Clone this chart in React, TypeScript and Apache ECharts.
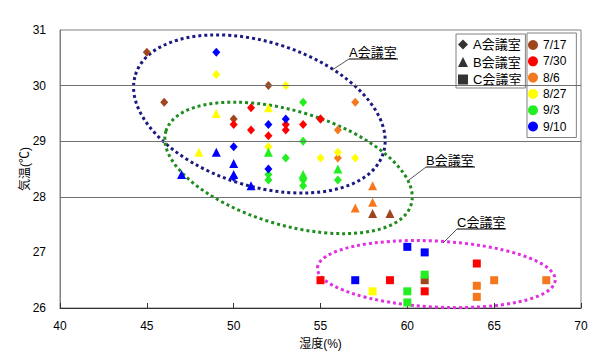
import React, { useEffect, useRef } from 'react';
import * as echarts from 'echarts';

const dates = ['7/17', '7/30', '8/6', '8/27', '9/3', '9/10'];
const rooms = ['A会議室', 'B会議室', 'C会議室'];
const gridLineValues = [28, 29, 30];

// Room A (diamonds), one list per date
const roomA: number[][][] = [
  [[45, 30.6], [46, 29.7], [52, 30.0], [50, 29.4], [55, 29.4]],
  [[51, 29.6], [50, 29.3], [51, 29.2], [52, 29.1], [53, 29.3], [53, 29.2], [54, 29.3], [55, 29.4]],
  [[57, 29.7], [56, 29.2], [56, 28.7]],
  [[49, 30.2], [53, 30.0], [52, 28.9], [55, 28.7], [56, 28.8], [57, 28.7]],
  [[54, 29.7], [54, 29.0], [53, 28.7], [52, 28.4], [52, 28.3], [54, 28.3], [54, 28.2], [56, 28.3]],
  [[49, 30.6], [52, 29.3], [53, 29.4], [50, 28.9], [52, 28.5], [50, 28.35]],
];
// Room B (triangles)
const roomB: number[][][] = [
  [[58, 27.7], [59, 27.7]],
  [],
  [[58, 28.2], [58, 27.9], [57, 27.8]],
  [[49, 29.5], [52, 29.6], [48, 28.8]],
  [[52, 28.8], [54, 28.4], [56, 28.5]],
  [[47, 28.4], [49, 28.8], [50, 28.6], [50, 28.4], [51, 28.2]],
];
// Room C (squares)
const roomC: number[][][] = [
  [[61, 26.5]],
  [[55, 26.5], [59, 26.5], [61, 26.3], [64, 26.8]],
  [[64, 26.4], [64, 26.2], [65, 26.5], [68, 26.5]],
  [[58, 26.3]],
  [[60, 26.3], [60, 26.1], [61, 26.6]],
  [[57, 26.5], [60, 27.1], [61, 27.0]],
];

const dateColors = ['#A0461E', '#FF0000', '#F5781E', '#FFFF00', '#22EE22', '#0000FF'];
const roomSymbols = ['diamond', 'triangle', 'rect'];
const roomSizes: any[] = [[8, 9], 9, 8];

const FONT = "'Liberation Sans', 'Noto Sans CJK JP', sans-serif";

const ellipses = [
  { center: [51.48, 29.49], rx: 130, ry: 72, rot: -17.6, color: '#1A1A80' },
  { center: [53.16, 28.52], rx: 128, ry: 57, rot: -16.6, color: '#1E8C1E' },
  { center: [61.67, 26.61], rx: 119, ry: 33, rot: -3, color: '#E030E0' },
];

const callouts = [
  { text: 'A会議室', x: 349, y: 52, w: 49, lx: 332, ly: 70 },
  { text: 'B会議室', x: 426, y: 160, w: 49, lx: 409, ly: 180 },
  { text: 'C会議室', x: 457, y: 222, w: 49, lx: 443, ly: 243 },
];

export default function App() {
  const ref = useRef<HTMLDivElement>(null);
  useEffect(() => {
    if (!ref.current) return;
    const chart = echarts.init(ref.current, undefined, { renderer: 'svg' });
    const roomData = [roomA, roomB, roomC];
    const series: any[] = [];
    rooms.forEach((room, r) => {
      series.push({
        type: 'scatter',
        name: room,
        data: [],
        symbol: roomSymbols[r],
        symbolSize: roomSizes[r],
        itemStyle: { color: '#000' },
      });
    });
    roomData.forEach((rd, r) => {
      rd.forEach((pts, d) => {
        series.push({
          type: 'scatter',
          name: dates[d],
          data: pts,
          symbol: roomSymbols[r],
          symbolSize: roomSizes[r],
          itemStyle: { color: dateColors[d], opacity: 1 },
          z: 3,
        });
      });
    });
    series.push({
      type: 'scatter',
      name: 'grid',
      data: [],
      markLine: {
        silent: true,
        symbol: 'none',
        label: { show: false },
        lineStyle: { color: '#707070', width: 1, type: 'solid' },
        data: gridLineValues.map((v) => ({ yAxis: v })),
      },
      z: 1,
    });

    const option: any = {
      animation: false,
      textStyle: { fontFamily: FONT },
      grid: {
        left: 60,
        right: 17,
        top: 30,
        bottom: 45,
        show: true,
        borderColor: '#808080',
        borderWidth: 1,
      },
      xAxis: {
        type: 'value',
        min: 40,
        max: 70,
        interval: 5,
        name: '湿度(%)',
        nameLocation: 'middle',
        nameGap: 30,
        nameMoveOverlap: false,
        nameTextStyle: { color: '#000', fontSize: 12, fontFamily: FONT },
        axisLine: { show: true, lineStyle: { color: '#333', width: 1 } },
        axisTick: { show: true, inside: true, length: 5, lineStyle: { color: '#333' } },
        axisLabel: { color: '#000', fontSize: 12, margin: 12, fontFamily: FONT },
        splitLine: { show: false },
      },
      yAxis: {
        type: 'value',
        min: 26,
        max: 31,
        interval: 1,
        name: '気温(℃)',
        nameLocation: 'middle',
        nameGap: 29,
        nameRotate: 90,
        nameMoveOverlap: false,
        nameTextStyle: { color: '#000000', fontSize: 12, fontFamily: FONT },
        axisLine: { show: true, lineStyle: { color: '#808080', width: 1 } },
        axisTick: { show: false },
        axisLabel: { color: '#000', fontSize: 12, margin: 14, fontFamily: FONT },
        splitLine: { show: false },
      },
      legend: [
        {
          data: rooms.map((n, i) => ({ name: n, icon: roomSymbols[i] })),
          orient: 'vertical',
          left: 456,
          top: 34,
          padding: [4, 4, 2, 2],
          itemWidth: 10,
          itemHeight: 10,
          itemGap: 4.5,
          backgroundColor: '#fff',
          borderColor: '#808080',
          borderWidth: 1,
          selectedMode: false,
          textStyle: { color: '#000', fontSize: 13, lineHeight: 12, fontFamily: FONT },
        },
        {
          data: dates.map((n) => ({ name: n, icon: 'circle' })),
          orient: 'vertical',
          left: 527,
          top: 33,
          padding: [6, 10, 5, 1],
          itemWidth: 10,
          itemHeight: 10,
          itemGap: 4.3,
          backgroundColor: '#fff',
          borderColor: '#808080',
          borderWidth: 1,
          selectedMode: false,
          textStyle: { color: '#000', fontSize: 12, lineHeight: 12, fontFamily: FONT },
        },
      ],
      series,
    };
    chart.setOption(option);

    const graphics: any[] = [];
    ellipses.forEach((e) => {
      const p = chart.convertToPixel({ gridIndex: 0 } as any, e.center) as number[];
      graphics.push({
        type: 'ellipse',
        x: p[0],
        y: p[1],
        rotation: (e.rot * Math.PI) / 180,
        shape: { cx: 0, cy: 0, rx: e.rx, ry: e.ry },
        style: { fill: 'rgba(0,0,0,0)', stroke: e.color, lineWidth: 3, lineDash: [3, 3] },
        silent: true,
        z: 2,
      });
    });
    callouts.forEach((c) => {
      graphics.push({
        type: 'text',
        x: c.x,
        y: c.y,
        style: {
          text: c.text,
          fill: '#000',
          font: `13px ${FONT}`,
          textVerticalAlign: 'middle',
          verticalAlign: 'middle',
        },
        silent: true,
        z: 5,
      });
      graphics.push({
        type: 'line',
        shape: { x1: c.x, y1: c.y + 7, x2: c.x + c.w, y2: c.y + 7 },
        style: { stroke: '#000', lineWidth: 1 },
        silent: true,
        z: 5,
      });
      graphics.push({
        type: 'line',
        shape: { x1: c.lx, y1: c.ly, x2: c.x, y2: c.y + 7 },
        style: { stroke: '#555', lineWidth: 1 },
        silent: true,
        z: 5,
      });
    });
    chart.setOption({ graphic: graphics });

    return () => chart.dispose();
  }, []);
  return (
    <div
      ref={ref}
      style={{ position: 'fixed', left: 0, top: 0, width: 598, height: 355, background: '#fff' }}
    />
  );
}
